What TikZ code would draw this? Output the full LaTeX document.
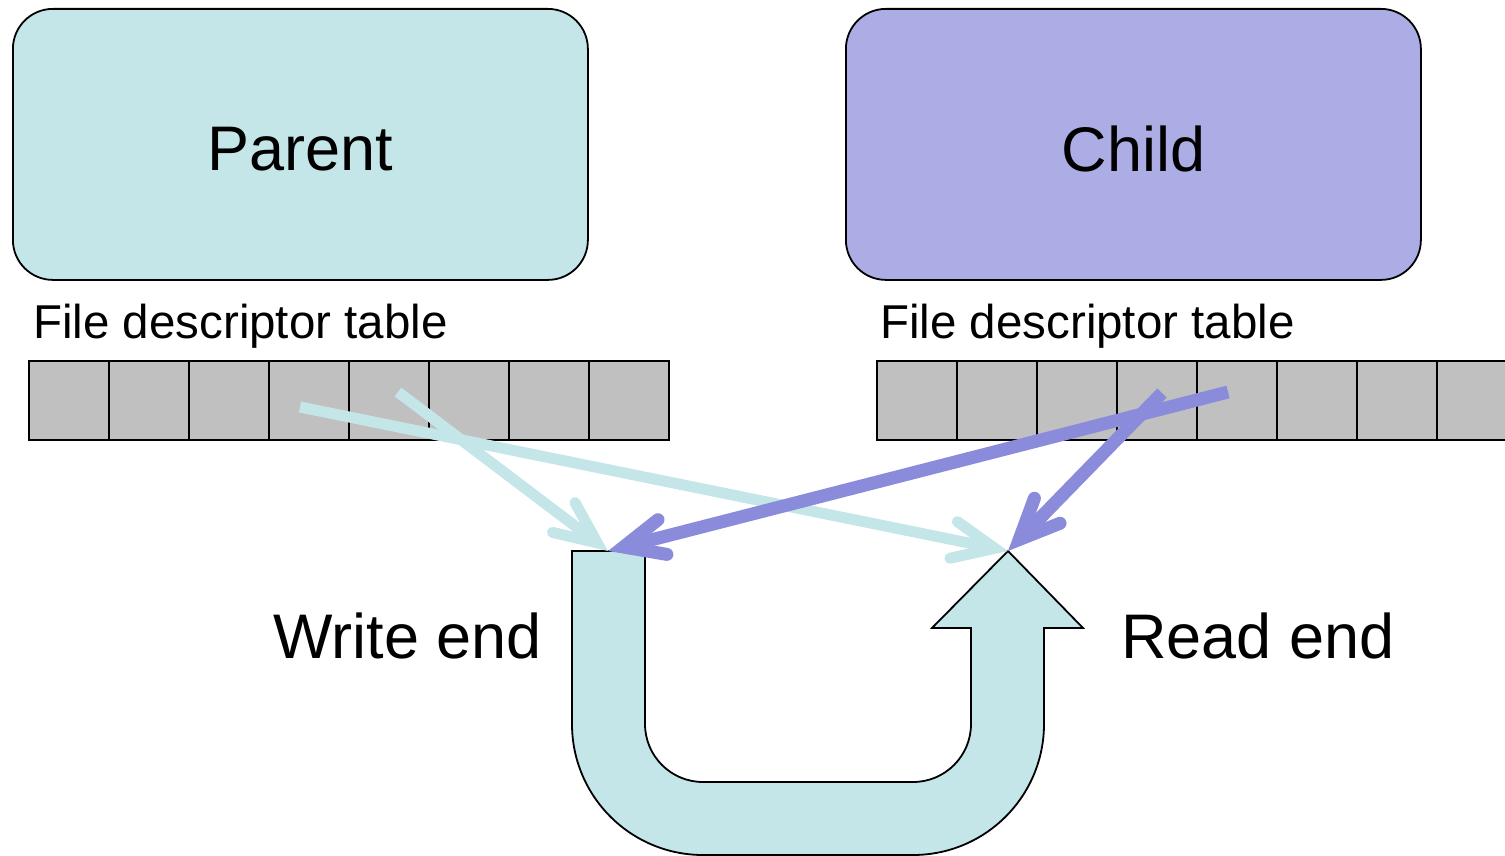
\documentclass[tikz,border=0pt]{standalone}
\usepackage{fontspec}
\setmainfont{Liberation Sans}
\usetikzlibrary{calc}
\definecolor{pcyan}{RGB}{196,230,232}
\definecolor{pbox}{RGB}{173,173,230}
\definecolor{parrow}{RGB}{139,139,219}
\definecolor{cellgray}{RGB}{192,192,192}
\tikzset{
  procbox/.style={draw=black, line width=1.8pt, rounded corners=40pt, minimum width=575pt, minimum height=271pt, inner sep=0pt, anchor=north west},
  boxtext/.style={inner sep=0pt, font=\fontsize{63}{75}\selectfont},
  cell/.style={draw=black, fill=cellgray, line width=2pt, minimum width=80pt, minimum height=79pt, inner sep=0pt, anchor=north west},
  smalltext/.style={anchor=base west, inner sep=0pt, font=\fontsize{47.5}{57}\selectfont},
  bigtext/.style={anchor=base west, inner sep=0pt, font=\fontsize{63}{75}\selectfont},
  pipeshape/.style={draw=black, line width=1.8pt, fill=pcyan, line join=miter},
  cyanline/.style={draw=pcyan, line width=11pt},
  purpleline/.style={draw=parrow, line width=13pt},
  barbs/.style={line cap=round, line join=miter, miter limit=10},
}
% style, from, to, arm length, set-back of the centre-line vertex
\newcommand{\barbarrow}[5]{%
  \coordinate (inner) at ($(#3)!#5!(#2)$);
  \draw[#1] (#2) -- (inner);
  \draw[#1, barbs] ($(inner)!#4!24:(#2)$) -- (inner) -- ($(inner)!#4!-24:(#2)$);
}
\begin{document}
\begin{tikzpicture}[x=1pt, y=-1pt]
\useasboundingbox (0,0) rectangle (1505,856);
\clip (0,0) rectangle (1505,856);
% process boxes
\node[procbox, fill=pcyan] (parent) at (12,8) {};
\node[procbox, fill=pbox] (child) at (845,8) {};
\node[boxtext] (ptext) at ([yshift=-4.5pt]parent.center) {Parent};
\node[boxtext] (ctext) at ([yshift=-4.5pt]child.center) {Child};
% labels
\node[smalltext] (plabel) at (33,338) {File descriptor table};
\node[smalltext] (clabel) at (880,338) {File descriptor table};
% tables
\foreach \i in {0,...,7} {
  \node[cell] (pc\i) at ({28+80*\i},360) {};
  \node[cell] (cc\i) at ({876+80*\i},360) {};
}
% pipe
\coordinate (wtip) at (608,551);
\coordinate (rtip) at (1008,551);
\draw[pipeshape] (572,551) -- (645,551) -- (645,724)
  arc[start angle=180, end angle=90, radius=58] -- (913,782)
  arc[start angle=90, end angle=0, radius=58] -- (971,628) -- (932,628)
  -- (rtip) -- (1083,628) -- (1044,628) -- (1044,724)
  arc[start angle=0, end angle=90, radius=131] -- (703,855)
  arc[start angle=90, end angle=180, radius=131] -- cycle;
\node[bigtext] (wlabel) at (273,658) {Write end};
\node[bigtext] (rlabel) at (1121,658) {Read end};
% parent descriptors
\coordinate (pfd1) at (300,407);
\coordinate (pfd2) at (398,392);
\barbarrow{cyanline}{pfd1}{rtip}{46pt}{13.5pt}
\barbarrow{cyanline}{pfd2}{wtip}{46pt}{13.5pt}
% child descriptors
\coordinate (cfd1) at (1228,392);
\coordinate (cfd2) at (1162,393);
\barbarrow{purpleline}{cfd1}{wtip}{44pt}{16pt}
\barbarrow{purpleline}{cfd2}{rtip}{44pt}{16pt}
\end{tikzpicture}
\end{document}
